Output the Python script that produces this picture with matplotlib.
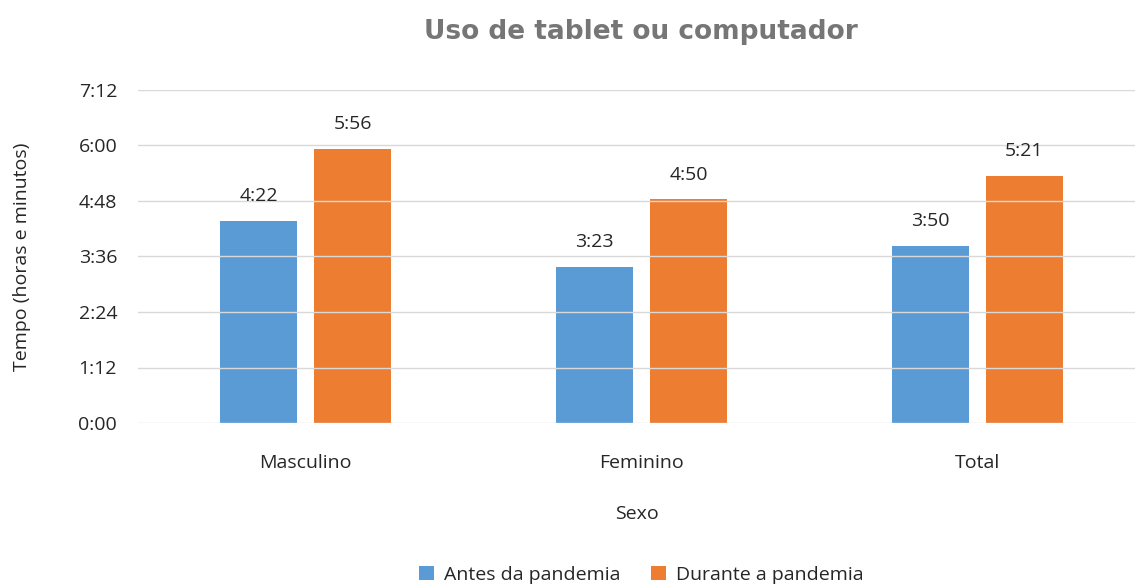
import matplotlib.pyplot as plt
import numpy as np
from matplotlib.ticker import FuncFormatter, MultipleLocator

plt.rcParams['font.family'] = ['Open Sans', 'DejaVu Sans']

categories = ["Masculino", "Feminino", "Total"]
antes = ["4:22", "3:23", "3:50"]
durante = ["5:56", "4:50", "5:21"]


def to_hours(s):
    h, m = s.split(":")
    return int(h) + int(m) / 60


def fmt_hm(v, pos=None):
    total = int(round(v * 60))
    return f"{total // 60}:{total % 60:02d}"


antes_h = [to_hours(s) for s in antes]
durante_h = [to_hours(s) for s in durante]

blue = "#5b9bd5"
orange = "#ed7d31"
text_col = "#262626"
fs = 14

fig = plt.figure(figsize=(11.35, 5.88), dpi=100)
ax = fig.add_axes([0.1216, 0.2806, 0.8784, 0.5664])

x = np.arange(len(categories))
w = 0.23
b1 = ax.bar(x - 0.14, antes_h, w, color=blue, zorder=2, label="Antes da pandemia")
b2 = ax.bar(x + 0.14, durante_h, w, color=orange, zorder=2, label="Durante a pandemia")

for bars, labels in [(b1, antes), (b2, durante)]:
    for r, lab in zip(bars, labels):
        ax.text(r.get_x() + r.get_width() / 2, r.get_height() + 0.34, lab,
                ha="center", va="bottom", fontsize=fs, color=text_col)

ax.set_ylim(0, 7.2)
ax.set_xlim(-0.5, 2.47)
ax.yaxis.set_major_locator(MultipleLocator(1.2))
ax.yaxis.set_major_formatter(FuncFormatter(fmt_hm))
ax.grid(axis="y", color="#d9d9d9", linewidth=1, zorder=3)
ax.set_axisbelow(False)
for s in ax.spines.values():
    s.set_visible(False)
ax.tick_params(axis="both", length=0, labelsize=fs, labelcolor=text_col)
ax.tick_params(axis="y", pad=15)
ax.tick_params(axis="x", pad=22)
ax.set_xticks(x)
ax.set_xticklabels(categories)

ax.set_ylabel("Tempo (horas e minutos)", fontsize=fs, color=text_col, labelpad=34)
ax.set_xlabel("Sexo", fontsize=fs, color=text_col, labelpad=24)
fig.text(0.565, 0.945, "Uso de tablet ou computador", ha="center", va="center",
         fontsize=19, fontweight="bold", color="#767676", family="DejaVu Sans")

fig.legend(handles=[b1, b2], loc="center", bbox_to_anchor=(0.565, 0.022), ncol=2,
           frameon=False, fontsize=fs, handlelength=0.75, handleheight=0.75,
           columnspacing=1.6, handletextpad=0.5, labelcolor=text_col)

fig.savefig("out.png", dpi=100)
